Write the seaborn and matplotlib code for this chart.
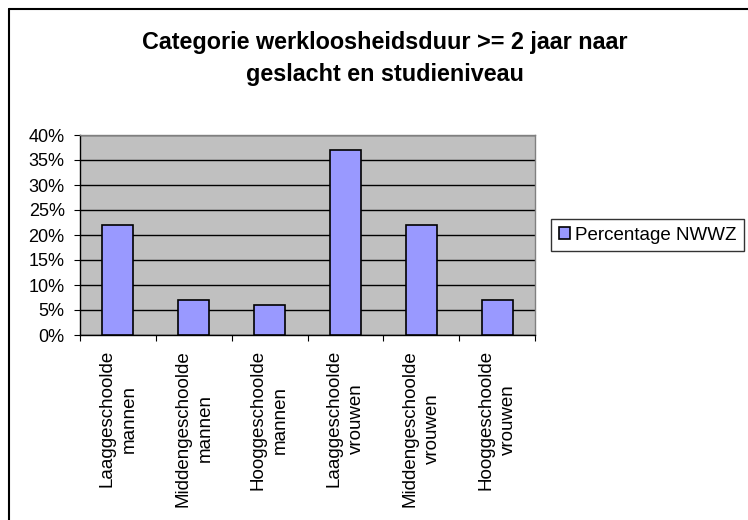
import matplotlib
matplotlib.use('Agg')
import matplotlib.pyplot as plt
import seaborn as sns
import pandas as pd
from matplotlib.lines import Line2D
from matplotlib.ticker import PercentFormatter, FixedLocator

# data
categories = ['Laaggeschoolde\nmannen', 'Middengeschoolde\nmannen', 'Hooggeschoolde\nmannen',
              'Laaggeschoolde\nvrouwen', 'Middengeschoolde\nvrouwen', 'Hooggeschoolde\nvrouwen']
percentages = [22, 7, 6, 37, 22, 7]
series_name = 'Percentage NWWZ'
yticks = [0, 5, 10, 15, 20, 25, 30, 35, 40]

df = pd.DataFrame({'cat': categories, 'pct': percentages})

sns.set_style('white')
plt.rcParams['font.family'] = ['Liberation Sans', 'DejaVu Sans']
plt.rcParams['text.color'] = 'black'
plt.rcParams['xtick.color'] = 'black'
plt.rcParams['ytick.color'] = 'black'
plt.rcParams['xtick.labelcolor'] = 'black'
plt.rcParams['ytick.labelcolor'] = 'black'

fig = plt.figure(figsize=(7.48, 5.2), dpi=100)
ax = fig.add_axes([80 / 748, 1 - 335 / 520, 455 / 748, 200 / 520])
ax.set_facecolor('#C0C0C0')

sns.barplot(data=df, x='cat', y='pct', color='#9999FF', width=0.41,
            edgecolor='black', linewidth=1.2, saturation=1, ax=ax, zorder=3,
            label=series_name)

ax.set_xlim(-0.5, len(categories) - 0.5)
ax.set_ylim(0, 40)
ax.yaxis.set_major_locator(FixedLocator(yticks))
ax.yaxis.set_major_formatter(PercentFormatter(decimals=0))
ax.grid(axis='y', color='black', linewidth=1, zorder=0)
ax.set_axisbelow(True)

for side in ['top', 'right']:
    ax.spines[side].set_color('#808080')
    ax.spines[side].set_linewidth(1)
for side in ['left', 'bottom']:
    ax.spines[side].set_color('black')
    ax.spines[side].set_linewidth(1)

ax.set_xlabel('')
ax.set_ylabel('')
ax.tick_params(axis='y', labelsize=13, length=4, direction='out', left=True, pad=7)
# ticks between categories on x axis
ax.set_xticks([i - 0.5 for i in range(len(categories) + 1)], minor=False)
ax.set_xticklabels([''] * (len(categories) + 1))
ax.tick_params(axis='x', length=4, direction='out', bottom=True)
for i, lab in enumerate(categories):
    ax.text(i, -3.0, lab, rotation=90, ha='center', va='top', multialignment='center',
            fontsize=13.5, linespacing=1.4, transform=ax.transData)

fig.text(0.515, 1 - 43 / 520, 'Categorie werkloosheidsduur >= 2 jaar naar', ha='center', va='center',
         fontsize=16.8, fontweight='bold')
fig.text(0.515, 1 - 75 / 520, 'geslacht en studieniveau', ha='center', va='center',
         fontsize=16.8, fontweight='bold')

leg = ax.legend(loc='center left', bbox_to_anchor=(551 / 748, 1 - 235 / 520),
                bbox_transform=fig.transFigure, frameon=True, fancybox=False,
                fontsize=13.5, handlelength=0.6, handleheight=0.6, handletextpad=0.3,
                borderpad=0.4, borderaxespad=0)
leg.get_frame().set_edgecolor('black')
leg.get_frame().set_linewidth(1)

# outer chart border (top and left edge visible)
fig.add_artist(Line2D([8.5 / 748, 8.5 / 748], [0, 1 - 9 / 520], color='black', linewidth=1.5,
                      transform=fig.transFigure))
fig.add_artist(Line2D([8.5 / 748, 1], [1 - 9 / 520, 1 - 9 / 520], color='black', linewidth=1.5,
                      transform=fig.transFigure))

fig.savefig('out.png', dpi=100)
